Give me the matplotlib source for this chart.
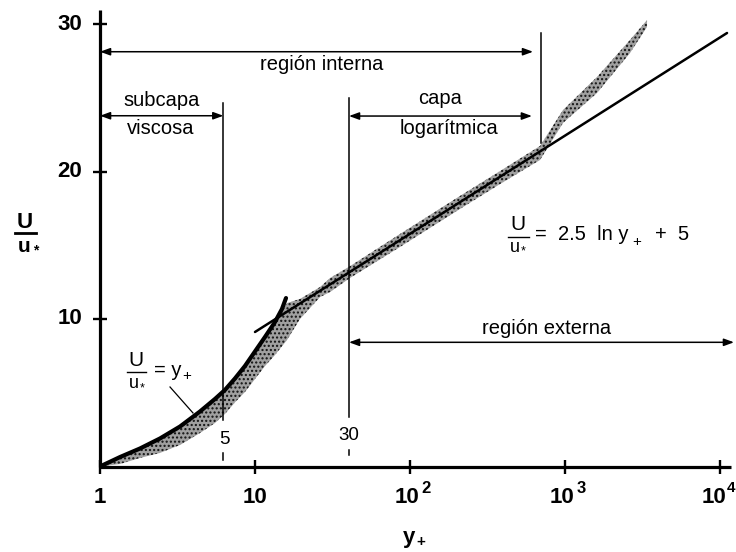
import numpy as np
import matplotlib
matplotlib.use('Agg')
import matplotlib.pyplot as plt
from matplotlib.ticker import NullLocator
from matplotlib.lines import Line2D

plt.rcParams['font.family'] = ['Liberation Sans', 'DejaVu Sans']

# ---------------- data ----------------
# scattered measurements shown as a stippled band
band_x = [1.0, 1.346, 1.811, 2.438, 3.282, 4.418, 5.521, 6.40, 7.43, 8.61, 10.0,
          11.6, 13.46, 16.1, 19.5, 26.3, 30.5, 41.0, 86.1, 210, 381, 690,
          971, 1608, 2626, 3382]
band_hi = [0.0, 0.64, 1.22, 1.90, 2.71, 3.73, 4.58, 5.19, 5.97, 6.81, 7.80,
           8.78, 9.80, 11.08, 11.36, 12.17, 12.78, 13.58, 15.76, 18.34, 20.03, 21.73,
           24.17, 26.41, 28.92, 30.27]
band_lo = [0.0, 0.17, 0.58, 0.92, 1.46, 2.27, 2.95, 3.56, 4.35, 5.05, 5.93,
           6.81, 7.56, 8.58, 10.0, 11.49, 11.83, 12.78, 14.88, 17.46, 19.15, 20.78,
           23.29, 25.32, 28.03, 29.8]

# viscous sub-layer curve  U/u* = y+
visc_x = [1.0, 1.346, 1.811, 2.438, 3.282, 4.418, 5.521, 6.40, 7.43, 8.61,
          10.0, 11.6, 13.46, 14.93, 15.85]
visc_y = [0.0, 0.64, 1.22, 1.90, 2.71, 3.73, 4.58, 5.19, 5.97, 6.81,
          7.80, 8.78, 9.80, 10.68, 11.42]

# log law line  U/u* = 2.5 ln y+ + 5
loglaw_x = [10.0, 11100.0]
loglaw_y = [9.12, 29.39]

xticks = [1, 10, 100, 1000, 10000]
xtick_base = ['1', '10', '10', '10', '10']
xtick_exp = ['', '', '2', '3', '4']
yticks = [10, 20, 30]
ytick_labels = ['10', '20', '30']

# ---------------- figure ----------------
W, H = 736, 552
fig = plt.figure(figsize=(W / 100, H / 100), dpi=100)
ax = fig.add_axes([100 / W, 1 - 466.5 / H, 631 / W, 456.5 / H])
ax.set_xscale('log')
ax.set_xlim(1, 10 ** (631 / 155))
ax.set_ylim(0, 456.5 / 14.75)

for s in ['top', 'right']:
    ax.spines[s].set_visible(False)
for s in ['left', 'bottom']:
    ax.spines[s].set_linewidth(2.3)
    ax.spines[s].set_capstyle('butt')

ax.set_xticks(xticks)
ax.set_xticklabels([])
ax.xaxis.set_minor_locator(NullLocator())
ax.set_yticks(yticks)
ax.set_yticklabels([])
ax.tick_params(axis='both', direction='inout', length=10, width=1.7, color='k')


def P(px, py):
    return (px / W, 1 - py / H)


# tick labels
for i, (x, b, e) in enumerate(zip(xticks, xtick_base, xtick_exp)):
    last = (i == len(xticks) - 1)
    dx = 0
    if e:
        dx = -2.5 if not last else -4.5
    ax.annotate(b, xy=(x, 0), xycoords=('data', 'axes fraction'),
                xytext=(dx, -22), textcoords='offset points',
                ha='center', va='center', fontsize=16, fontweight='bold',
                annotation_clip=False)
    if e:
        ax.annotate(e, xy=(x, 0), xycoords=('data', 'axes fraction'),
                    xytext=(11.5 if not last else 8.0, -15.5), textcoords='offset points',
                    ha='center', va='center', fontsize=12 if not last else 11,
                    fontweight='bold', annotation_clip=False)
for y, lab in zip(yticks, ytick_labels):
    ax.annotate(lab, xy=(0, y), xycoords=('axes fraction', 'data'),
                xytext=(-13, 0), textcoords='offset points',
                ha='right', va='center', fontsize=16, fontweight='bold',
                annotation_clip=False)

# data band and curves
ax.fill_between(band_x, band_lo, band_hi, facecolor='#a0a0a0', edgecolor='#111111',
                hatch='....', linewidth=0, zorder=2)
ax.plot(visc_x, visc_y, color='k', lw=3.0, solid_capstyle='round',
        solid_joinstyle='round', zorder=3)
ax.plot(loglaw_x, loglaw_y, color='k', lw=1.8, solid_capstyle='round', zorder=3)

# region markers
lw_ann = 1.1
x_visc, x_log, x_int = 6.25, 40.4, 700.0
ax.plot([x_visc, x_visc], [3.15, 24.66], color='k', lw=lw_ann)
ax.plot([x_log, x_log], [3.38, 24.96], color='k', lw=lw_ann)
ax.plot([x_int, x_int], [21.93, 29.39], color='k', lw=lw_ann)
ax.plot([x_visc, x_visc], [0.44, 0.9], color='k', lw=lw_ann)
ax.plot([x_log, x_log], [0.78, 1.12], color='k', lw=lw_ann)

aprops = dict(arrowstyle='<|-|>,head_length=0.6,head_width=0.22', color='k',
              lw=lw_ann, shrinkA=0, shrinkB=0, mutation_scale=10)
ax.annotate('', xy=(622, 28.12), xytext=(1.0, 28.12), arrowprops=aprops,
            annotation_clip=False)
ax.annotate('', xy=(x_visc, 23.78), xytext=(1.0, 23.78), arrowprops=aprops,
            annotation_clip=False)
ax.annotate('', xy=(612, 23.76), xytext=(x_log, 23.76), arrowprops=aprops,
            annotation_clip=False)
ax.annotate('', xy=(10 ** (634 / 155), 8.42), xytext=(x_log, 8.42), arrowprops=aprops,
            annotation_clip=False)

fs = 14.5
fig.text(*P(322, 64), 'región interna', ha='center', va='center', fontsize=fs)
fig.text(*P(161.5, 101), 'subcapa', ha='center', va='center', fontsize=fs)
fig.text(*P(161, 128), 'viscosa', ha='center', va='center', fontsize=fs)
fig.text(*P(440, 99), 'capa', ha='center', va='center', fontsize=fs)
fig.text(*P(449, 129), 'logarítmica', ha='center', va='center', fontsize=fs)
fig.text(*P(547, 329), 'región externa', ha='center', va='center', fontsize=fs)
fig.text(*P(224, 439), '5', ha='center', va='center', fontsize=13.5)
fig.text(*P(349, 435), '30', ha='center', va='center', fontsize=13.5)

# equation: U/u* = 2.5 ln y+ + 5
fig.text(*P(518, 224), 'U', ha='center', va='center', fontsize=15)
fig.add_artist(Line2D([508 / W, 529 / W], [1 - 237 / H] * 2, color='k', lw=1.0))
fig.text(*P(515, 247), 'u', ha='center', va='center', fontsize=13)
fig.text(*P(523, 251), '*', ha='center', va='center', fontsize=9)
fig.text(*P(535, 235), '=  2.5  ln y', ha='left', va='center', fontsize=14.5)
fig.text(*P(637, 242), '+', ha='center', va='center', fontsize=11)
fig.text(*P(655, 235), '+  5', ha='left', va='center', fontsize=14.5)

# equation: U/u* = y+
fig.text(*P(136, 361), 'U', ha='center', va='center', fontsize=15)
fig.add_artist(Line2D([127 / W, 146 / W], [1 - 372 / H] * 2, color='k', lw=1.0))
fig.text(*P(134, 384), 'u', ha='center', va='center', fontsize=13)
fig.text(*P(142, 388), '*', ha='center', va='center', fontsize=9)
fig.text(*P(154, 370), '= y', ha='left', va='center', fontsize=14.5)
fig.text(*P(187, 376), '+', ha='center', va='center', fontsize=11)
ax.plot([2.83, 3.98], [5.39, 3.63], color='k', lw=0.9)

# axis labels
fig.text(*P(25, 222), 'U', ha='center', va='center', fontsize=16, fontweight='bold')
fig.add_artist(Line2D([15 / W, 36 / W], [1 - 233.5 / H] * 2, color='k', lw=2.0))
fig.text(*P(24, 246), 'u', ha='center', va='center', fontsize=15, fontweight='bold')
fig.text(*P(36, 250), '*', ha='center', va='center', fontsize=10, fontweight='bold')

fig.text(*P(409, 537), 'y', ha='center', va='center', fontsize=16, fontweight='bold')
fig.text(*P(421, 542), '+', ha='center', va='center', fontsize=11, fontweight='bold')

fig.savefig('out.png', dpi=100)
